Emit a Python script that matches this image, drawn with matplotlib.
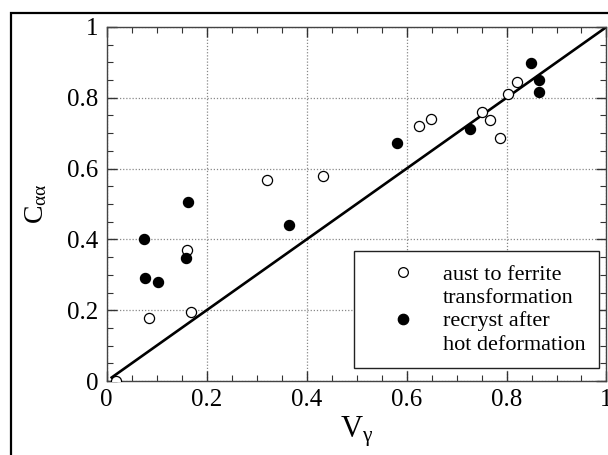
import matplotlib
matplotlib.use("Agg")
import matplotlib.pyplot as plt
from matplotlib.lines import Line2D
from matplotlib.patches import Rectangle

plt.rcParams['font.family'] = ['Liberation Serif', 'DejaVu Serif']
plt.rcParams['mathtext.fontset'] = 'custom'
plt.rcParams['mathtext.rm'] = 'Liberation Serif'
plt.rcParams['mathtext.it'] = 'Liberation Serif'

# austenite to ferrite transformation
aust_v = [0.019, 0.084, 0.169, 0.160, 0.321, 0.433, 0.624, 0.648, 0.750, 0.767, 0.787, 0.802, 0.820]
aust_c = [0.000, 0.178, 0.194, 0.370, 0.568, 0.580, 0.720, 0.741, 0.760, 0.738, 0.687, 0.812, 0.845]

# recrystallisation after hot deformation
recr_v = [0.074, 0.077, 0.103, 0.159, 0.163, 0.365, 0.581, 0.726, 0.848, 0.865, 0.865]
recr_c = [0.400, 0.292, 0.279, 0.348, 0.505, 0.440, 0.673, 0.711, 0.897, 0.850, 0.815]

# reference line C = V
line_v = [0.01, 1.0]
line_c = [0.01, 1.0]

ticks = [0, 0.2, 0.4, 0.6, 0.8, 1.0]
tick_labels = ['0', '0.2', '0.4', '0.6', '0.8', '1']
minor_ticks = [i * 0.05 for i in range(21)]

fig = plt.figure(figsize=(6.08, 4.55), dpi=100)
ax = fig.add_axes([0.1755, 0.1626, 0.822, 0.7781])

ax.plot(line_v, line_c, color='black', lw=1.9, zorder=2)
ax.plot(aust_v, aust_c, 'o', ms=7.3, mfc='white', mec='black', mew=0.9, zorder=3)
ax.plot(recr_v, recr_c, 'o', ms=7.3, mfc='black', mec='black', mew=0.9, zorder=3)

ax.set_xlim(0, 1)
ax.set_ylim(0, 1)
ax.set_xticks(ticks)
ax.set_yticks(ticks)
ax.set_xticks(minor_ticks, minor=True)
ax.set_yticks(minor_ticks, minor=True)
ax.set_xticklabels(tick_labels)
ax.set_yticklabels(tick_labels)

ax.tick_params(which='both', direction='in', top=True, right=True, colors='#333333',
               labelcolor='black', labelsize=18)
ax.tick_params(which='major', length=7, width=1.0, pad=6)
ax.tick_params(which='minor', length=4, width=0.8)
for s in ax.spines.values():
    s.set_linewidth(1.0)
    s.set_color('#444444')

ax.grid(True, which='major', linestyle=(0, (1, 1.5)), color='#888888', lw=0.9)

ax.set_xlabel(r'V$_{\mathrm{γ}}$', fontsize=22, labelpad=2)
ax.set_ylabel(r'C$_{\mathrm{αα}}$', fontsize=20, labelpad=13)

# legend: marker on the first line of each two-line entry
blank = Line2D([], [], linestyle='none', marker='none')
open_h = Line2D([], [], linestyle='none', marker='o', ms=7, mfc='white', mec='black', mew=0.9)
fill_h = Line2D([], [], linestyle='none', marker='o', ms=7.5, mfc='black', mec='black', mew=0.9)
handles = [open_h, blank, fill_h, blank]
labels = ['aust to ferrite', 'transformation', 'recryst after', 'hot deformation']
leg = ax.legend(handles, labels, loc='lower right', bbox_to_anchor=(0.985, 0.037),
                borderaxespad=0, fontsize=16, frameon=True, fancybox=False,
                framealpha=1, edgecolor='#222222', handletextpad=0.24,
                labelspacing=0.12, handlelength=3.16, borderpad=0.6)
leg.get_frame().set_linewidth(1.0)

# outer frame around the figure
fig.patches.append(Rectangle((10.7 / 608, -0.2), 1.2, (455 - 13.3) / 455 + 0.2,
                             transform=fig.transFigure, fill=False,
                             edgecolor='black', lw=1.6, clip_on=False))

fig.savefig('out.png', dpi=100)
